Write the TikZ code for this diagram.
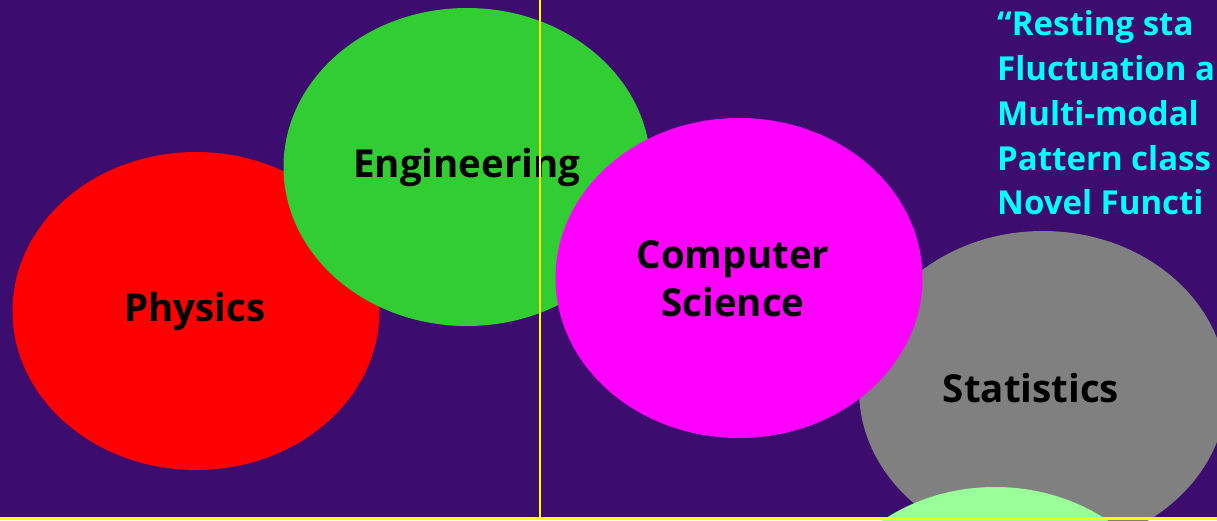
\documentclass[tikz,border=0pt]{standalone}
\usepackage{fontspec}
\setmainfont{Open Sans}
\usetikzlibrary{shapes.geometric}
\definecolor{bgpurple}{RGB}{60,12,110}
\definecolor{physred}{RGB}{255,0,0}
\definecolor{enggreen}{RGB}{50,205,50}
\definecolor{csmag}{RGB}{255,0,255}
\definecolor{statgray}{RGB}{128,128,128}
\definecolor{lightgreen}{RGB}{153,255,153}
\definecolor{txtcyan}{RGB}{0,255,255}
\definecolor{lineyellow}{RGB}{255,255,0}
\tikzset{
  blob/.style={ellipse, draw=none, inner sep=0pt, minimum width=367pt, minimum height=318pt},
  blobtext/.style={text=black, font=\bfseries\fontsize{38.5}{48}\selectfont, align=center, inner sep=0pt},
  cyantext/.style={anchor=base west, text=txtcyan, font=\bfseries\fontsize{33}{36}\selectfont, inner sep=0pt},
  yline/.style={draw=lineyellow, line width=2pt}
}
\begin{document}
\begin{tikzpicture}[x=1pt,y=-1pt]
\useasboundingbox (0,0) rectangle (1217,520);
\clip (0,0) rectangle (1217,520);
\fill[bgpurple] (0,0) rectangle (1217,520);
% cyan text
\node[cyantext] (t1) at (997,35) {“Resting sta};
\node[cyantext] (t2) at (997,80) {Fluctuation a};
\node[cyantext] (t3) at (997,125) {Multi-modal};
\node[cyantext] (t4) at (997,170) {Pattern class};
\node[cyantext] (t5) at (997,214) {Novel Functi};
% circles
\node[blob, fill=physred] (phys) at (196,311) {};
\node[blob, fill=enggreen] (eng) at (467,167) {};
\node[blob, fill=statgray, minimum width=368pt] (stat) at (1043,390) {};
\node[blob, fill=csmag, minimum height=320pt] (cs) at (739,278) {};
\node[blob, fill=lightgreen] (bio) at (995,646) {};
% labels
\node[blobtext] (physl) at (195,311) {Physics};
\node[blobtext] (engl) at (467,167) {Engineering};
\node[blobtext] (csl) at (733,279) {Computer\\Science};
\node[blobtext] (statl) at (1031,388) {Statistics};
% yellow lines
\coordinate (vtop) at (540,0);
\coordinate (vbot) at (540,520);
\draw[yline] (vtop) -- (vbot);
\coordinate (bl) at (0,517);
\coordinate (br) at (1217,520);
\fill[lineyellow] (bl) rectangle (br);
\end{tikzpicture}
\end{document}
